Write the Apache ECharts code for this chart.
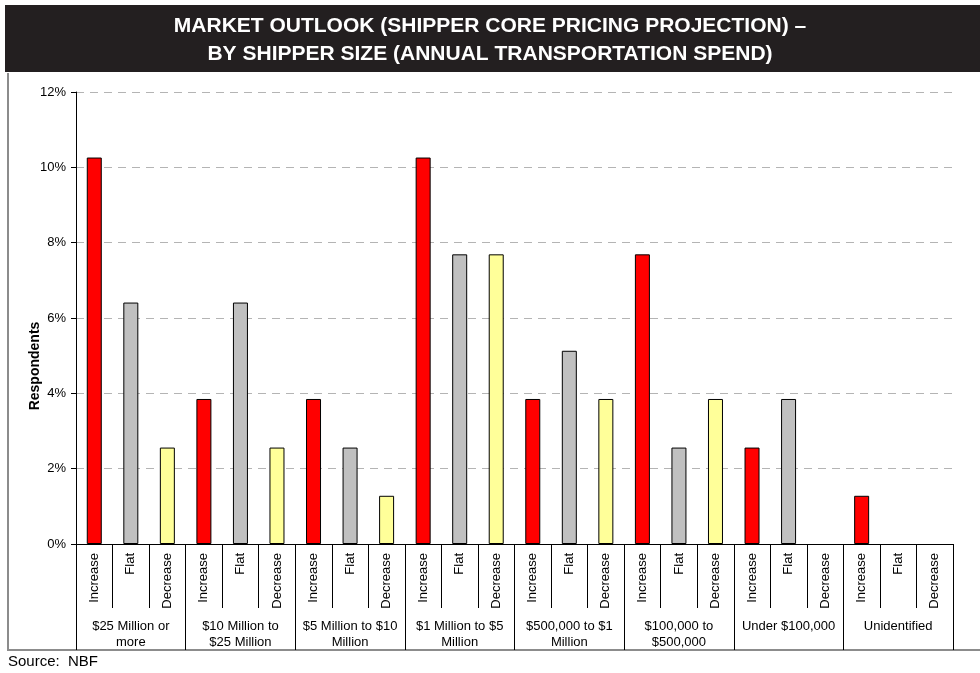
<!DOCTYPE html>
<html><head><meta charset="utf-8">
<script src="https://cdn.jsdelivr.net/npm/echarts@6/dist/echarts.min.js"></script>
<style>html,body{margin:0;padding:0;background:#fff}#c{width:980px;height:673px}</style>
</head><body><div id="c"></div>
<script>
var groups = ['$25 Million or\nmore', '$10 Million to\n$25 Million', '$5 Million to $10\nMillion', '$1 Million to $5\nMillion', '$500,000 to $1\nMillion', '$100,000 to\n$500,000', 'Under $100,000', 'Unidentified'];
var outlooks = ['Increase', 'Flat', 'Decrease'];
var increaseVals = [10.26, 3.85, 3.85, 10.26, 3.85, 7.69, 2.56, 1.28];
var flatVals     = [6.41, 6.41, 2.56, 7.69, 5.13, 2.56, 3.85, 0];
var decreaseVals = [2.56, 2.56, 1.28, 7.69, 3.85, 3.85, 0, 0];
var yTicks = [0, 2, 4, 6, 8, 10, 12];
var colors = ['#ff0000', '#c0c0c0', '#ffff99'];

var cats = [], vals = [];
for (var g = 0; g < groups.length; g++) {
  var sets = [increaseVals, flatVals, decreaseVals];
  for (var k = 0; k < 3; k++) {
    cats.push(outlooks[k]);
    var v = sets[k][g];
    vals.push({ value: v, itemStyle: { color: colors[k], borderColor: '#000', borderWidth: v > 0 ? 1 : 0 } });
  }
}

var chart = echarts.init(document.getElementById('c'));
var font = 'Liberation Sans, Arial, sans-serif';
chart.setOption({
  animation: false,
  textStyle: { fontFamily: font },
  grid: { left: 76, top: 92, right: 27, bottom: 129, containLabel: false },
  xAxis: [{
    type: 'category', data: cats, position: 'bottom',
    axisLine: { lineStyle: { color: '#000', width: 1 } },
    axisTick: { show: true, length: 64, interval: 0, lineStyle: { color: '#000' } },
    axisLabel: { interval: 0, rotate: 90, margin: 9, fontSize: 13, color: '#000', fontFamily: font }
  }, {
    type: 'category', data: groups, position: 'bottom',
    axisLine: { show: false },
    axisTick: { show: true, length: 106, interval: 0, lineStyle: { color: '#000' } },
    axisLabel: { interval: 0, margin: 74, fontSize: 13, lineHeight: 16, color: '#000', fontFamily: font, align: 'center', verticalAlign: 'top' }
  }],
  yAxis: {
    type: 'value', min: yTicks[0], max: yTicks[yTicks.length - 1], interval: 2,
    axisLine: { show: true, lineStyle: { color: '#000' } },
    axisTick: { show: true, length: 5, lineStyle: { color: '#000' } },
    axisLabel: { formatter: '{value}%', fontSize: 13, color: '#000', margin: 10, fontFamily: font },
    splitLine: { show: true, lineStyle: { color: '#b4b4b4', type: [8, 6], width: 1 } }
  },
  series: [{
    type: 'bar', xAxisIndex: 0, data: vals, barWidth: 15
  }],
  graphic: [
    { type: 'rect', left: 5, top: 5, shape: { width: 975, height: 67 }, style: { fill: '#231f20' }, z: 0 },
    { type: 'text', x: 490, y: 40, style: { text: 'MARKET OUTLOOK (SHIPPER CORE PRICING PROJECTION) –\nBY SHIPPER SIZE (ANNUAL TRANSPORTATION SPEND)', fill: '#fff', font: 'bold 21px ' + font, textAlign: 'center', textVerticalAlign: 'middle', lineHeight: 28 }, z: 1 },
    { type: 'text', x: 35, y: 366, rotation: Math.PI / 2, style: { text: 'Respondents', fill: '#000', font: 'bold 14px ' + font, textAlign: 'center', textVerticalAlign: 'middle' }, z: 1 },
    { type: 'polyline', shape: { points: [[8, 73], [8, 650], [980, 650]] }, style: { stroke: '#8c8c8c', lineWidth: 2, fill: null }, z: 0 },
    { type: 'text', left: 8, top: 654, style: { text: 'Source:  NBF', fill: '#000', font: '15px ' + font }, z: 1 }
  ]
});
</script></body></html>
